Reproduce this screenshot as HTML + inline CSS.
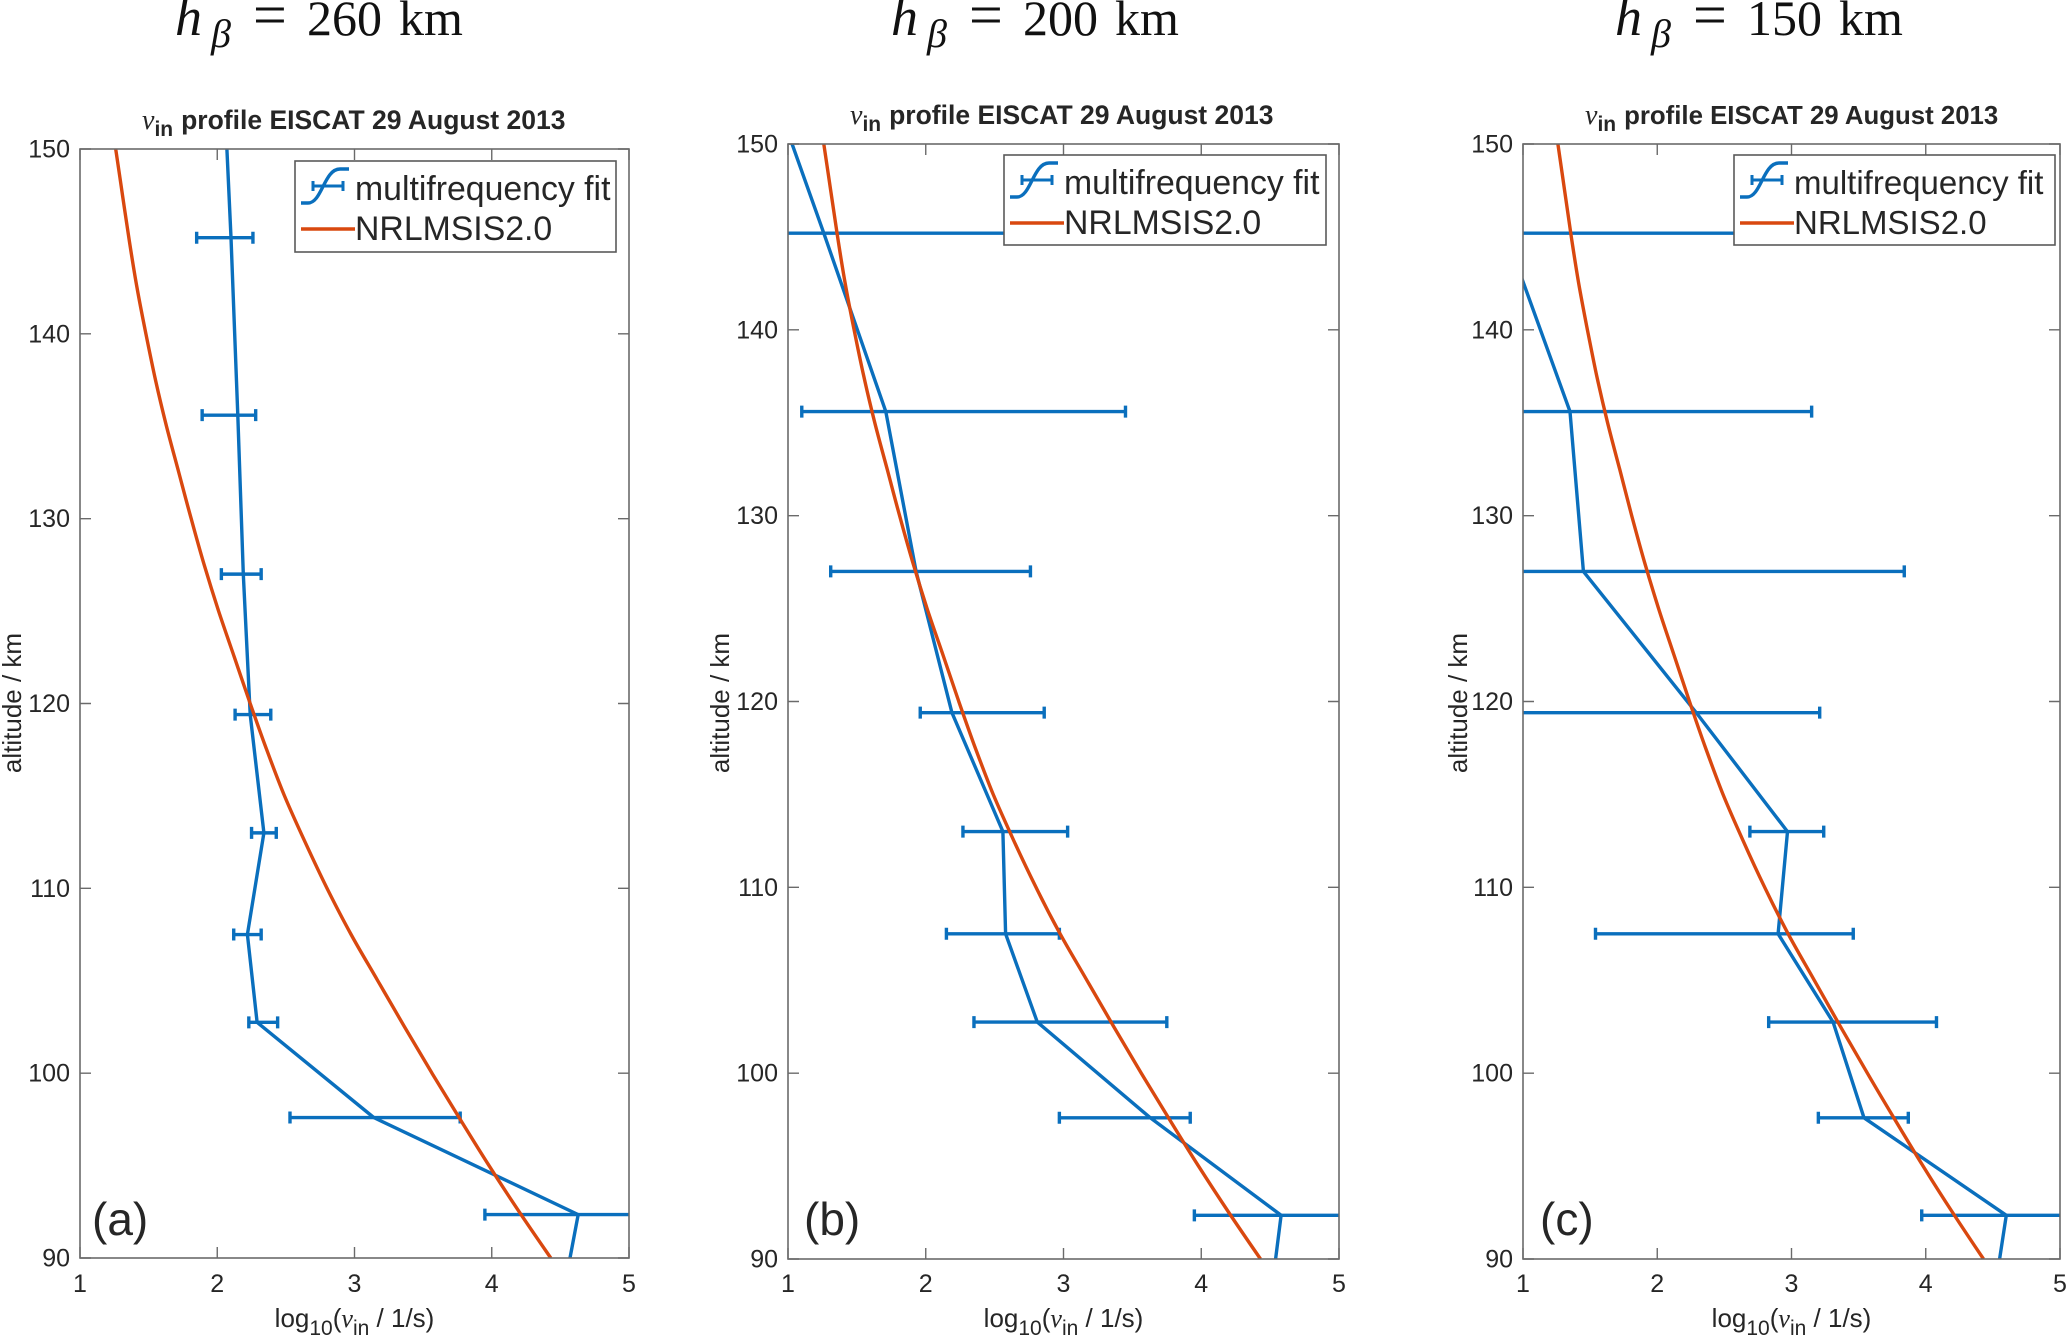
<!DOCTYPE html>
<html>
<head>
<meta charset="utf-8">
<title>Ion-neutral collision frequency profiles</title>
<style>
html,body{margin:0;padding:0;background:#fff;}
svg{display:block;}
text{font-family:"Liberation Sans",sans-serif;fill:#262626;}
.head{font-family:"Liberation Serif",serif;fill:#111;font-size:50px;}
</style>
</head>
<body>
<svg id="fig" xmlns="http://www.w3.org/2000/svg" width="2067" height="1339" viewBox="0 0 2067 1339"></svg>
<script>
const altitudes = [90, 92.35, 97.6, 102.75, 107.5, 113, 119.4, 127, 135.6, 145.2, 150];
const fitA  = [4.57, 4.63, 3.14, 2.29, 2.22, 2.34, 2.24, 2.19, 2.15, 2.10, 2.07];
const lowA  = [null, 3.95, 2.53, 2.23, 2.12, 2.25, 2.13, 2.03, 1.89, 1.85, null];
const highA = [null, 6.00, 3.77, 2.44, 2.32, 2.43, 2.39, 2.32, 2.28, 2.26, null];
const fitB  = [4.54, 4.58, 3.63, 2.81, 2.58, 2.56, 2.19, 1.93, 1.71, 1.26, 1.03];
const lowB  = [null, 3.95, 2.97, 2.35, 2.15, 2.27, 1.96, 1.31, 1.10, 0.20, null];
const highB = [null, 6.00, 3.92, 3.75, 2.97, 3.03, 2.86, 2.76, 3.45, 3.00, null];
const fitC  = [4.55, 4.60, 3.54, 3.31, 2.90, 2.97, 2.29, 1.45, 1.35, 0.87, 0.50];
const lowC  = [null, 3.97, 3.20, 2.83, 1.54, 2.69, 0.50, 0.20, 0.30, 0.10, null];
const highC = [null, 6.00, 3.87, 4.08, 3.46, 3.24, 3.21, 3.84, 3.15, 3.00, null];
const msisAltitudes = [90, 92.5, 95, 97.5, 100, 102.5, 105, 107.5, 110, 112.5, 115, 117.5, 120, 122.5, 125, 127.5, 130, 132.5, 135, 137.5, 140, 142.5, 145, 147.5, 150];
const msisValues = [4.43, 4.20, 3.98, 3.77, 3.565, 3.365, 3.17, 2.975, 2.80, 2.64, 2.49, 2.36, 2.24, 2.125, 2.01, 1.905, 1.81, 1.72, 1.63, 1.55, 1.48, 1.415, 1.36, 1.31, 1.26];
const xTicks = [1, 2, 3, 4, 5];
const yTicks = [90, 100, 110, 120, 130, 140, 150];
const headingValues = ["260", "200", "150"];
const panelLetters = ["(a)", "(b)", "(c)"];

const NS = "http://www.w3.org/2000/svg";
const fig = document.getElementById("fig");
function mk(tag, attrs, parent, txt) {
  const e = document.createElementNS(NS, tag);
  for (const k in attrs) e.setAttribute(k, attrs[k]);
  if (txt !== undefined) e.textContent = txt;
  (parent || fig).appendChild(e);
  return e;
}
const BLUE = "#0A6FBD", ORANGE = "#D9480F", AX = "#6a6a6a";

const layouts = [
  {L:80,  R:629,  T:149, B:1258, legL:295,  legR:616,  legT:161, legB:252, titleX:142,  titleY:129, headX:175,  ylabX:21,  numR:70,   letterX:92,   legFont:33.8, titleFont:26.5},
  {L:788, R:1339, T:144, B:1259, legL:1004, legR:1326, legT:155, legB:245, titleX:850,  titleY:124, headX:891,  ylabX:729, numR:778,  letterX:804,  legFont:33.8, titleFont:26.5},
  {L:1523,R:2060, T:144, B:1259, legL:1734, legR:2055, legT:155, legB:245, titleX:1585, titleY:124, headX:1615, ylabX:1467,numR:1513, letterX:1540, legFont:33,   titleFont:25.8}
];
const fits = [fitA, fitB, fitC];
const lows = [lowA, lowB, lowC];
const highs = [highA, highB, highC];

function smoothPath(px) {
  let d = "M" + px[0][0].toFixed(1) + " " + px[0][1].toFixed(1);
  for (let k = 0; k < px.length - 1; k++) {
    const p0 = px[Math.max(k - 1, 0)], p1 = px[k], p2 = px[k + 1], p3 = px[Math.min(k + 2, px.length - 1)];
    const c1x = p1[0] + (p2[0] - p0[0]) / 6, c1y = p1[1] + (p2[1] - p0[1]) / 6;
    const c2x = p2[0] - (p3[0] - p1[0]) / 6, c2y = p2[1] - (p3[1] - p1[1]) / 6;
    d += "C" + c1x.toFixed(1) + " " + c1y.toFixed(1) + " " + c2x.toFixed(1) + " " + c2y.toFixed(1) + " " + p2[0].toFixed(1) + " " + p2[1].toFixed(1);
  }
  return d;
}

layouts.forEach(function (p, i) {
  const sx = function (v) { return p.L + (v - 1) / 4 * (p.R - p.L); };
  const sy = function (v) { return p.B - (v - 90) / 60 * (p.B - p.T); };
  const g = mk("g", {});
  
  

  // page heading
  const head = mk("text", {x: p.headX, y: 35, "class": "head"}, g);
  
  
  mk("tspan", {"font-style": "italic", "font-size": 54}, head, "h");
  mk("tspan", {"font-style": "italic", x: p.headX + 36, dy: 12, "font-size": 40}, head, "β");
  mk("tspan", {x: p.headX + 78, dy: -12, "font-size": 60}, head, "=");
  mk("tspan", {x: p.headX + 132}, head, headingValues[i]);
  mk("tspan", {x: p.headX + 224}, head, "km");

  // title
  const title = mk("text", {x: p.titleX, y: p.titleY, "font-size": p.titleFont, "font-weight": "bold"}, g);
  
  
  mk("tspan", {"font-family": "Liberation Serif", "font-style": "italic", "font-weight": "normal", "font-size": 28}, title, "ν");
  mk("tspan", {dy: 7, "font-size": 21}, title, "in");
  mk("tspan", {dx: 8, dy: -7}, title, "profile EISCAT 29 August 2013");

  // clip
  const defs = mk("defs", {}, g);
  const cp = mk("clipPath", {id: "clip" + i}, defs);
  mk("rect", {x: p.L, y: p.T, width: p.R - p.L, height: p.B - p.T}, cp);

  // series
  const plot = mk("g", {"clip-path": "url(#clip" + i + ")"}, g);
  
  

  const pts = altitudes.map(function (a, j) { return sx(fits[i][j]).toFixed(1) + "," + sy(a).toFixed(1); }).join(" ");
  const fitLine = mk("polyline", {points: pts, fill: "none", stroke: BLUE, "stroke-width": 3.4, "stroke-linejoin": "round"}, plot);
  
  

  altitudes.forEach(function (a, j) {
    if (lows[i][j] === null) return;
    const y = sy(a), x1 = sx(lows[i][j]), x2 = sx(highs[i][j]);
    const d = "M" + x1 + " " + y + "H" + x2 + "M" + x1 + " " + (y - 6) + "V" + (y + 6) + "M" + x2 + " " + (y - 6) + "V" + (y + 6);
    const eb = mk("path", {d: d, fill: "none", stroke: BLUE, "stroke-width": 3.4}, plot);
    
    
  });

  const mpts = msisAltitudes.map(function (a, j) { return [sx(msisValues[j]), sy(a)]; });
  const msis = mk("path", {d: smoothPath(mpts), fill: "none", stroke: ORANGE, "stroke-width": 3.4}, plot);
  
  

  // axes box
  const box = mk("rect", {x: p.L, y: p.T, width: p.R - p.L, height: p.B - p.T, fill: "none", stroke: AX, "stroke-width": 1.6}, g);
  
  

  // ticks
  xTicks.forEach(function (t) {
    const x = sx(t);
    const tk = mk("path", {d: "M" + x + " " + p.B + "v-11M" + x + " " + p.T + "v11", stroke: AX, "stroke-width": 1.4, fill: "none"}, g);
    
    
    const lb = mk("text", {x: x, y: 1292, "font-size": 25, "text-anchor": "middle"}, g, String(t));
    
    
  });
  yTicks.forEach(function (t) {
    const y = sy(t);
    const tk = mk("path", {d: "M" + p.L + " " + y + "h11M" + p.R + " " + y + "h-11", stroke: AX, "stroke-width": 1.4, fill: "none"}, g);
    
    
    const lb = mk("text", {x: p.numR, y: y + 8.5, "font-size": 25, "text-anchor": "end"}, g, String(t));
    
    
  });

  // axis labels
  const yl = mk("text", {x: 0, y: 0, "font-size": 26, "text-anchor": "middle", transform: "translate(" + p.ylabX + ",703) rotate(-90)"}, g, "altitude / km");
  
  
  const xl = mk("text", {x: (p.L + p.R) / 2, y: 1327, "font-size": 26, "text-anchor": "middle"}, g);
  
  
  mk("tspan", {}, xl, "log");
  mk("tspan", {dy: 8, "font-size": 21}, xl, "10");
  mk("tspan", {dy: -8}, xl, "(");
  mk("tspan", {"font-family": "Liberation Serif", "font-style": "italic"}, xl, "ν");
  mk("tspan", {dy: 8, "font-size": 21}, xl, "in");
  mk("tspan", {dy: -8}, xl, " / 1/s)");

  // panel letter
  const pl = mk("text", {x: p.letterX, y: 1235, "font-size": 46, fill: "#111"}, g, panelLetters[i]);
  
  

  // legend
  const leg = mk("g", {}, g);
  
  
  mk("rect", {x: p.legL, y: p.legT, width: p.legR - p.legL, height: p.legB - p.legT, fill: "#fff", stroke: "#5a5a5a", "stroke-width": 1.6}, leg);
  const lx = p.legL + 6, midY = p.legT + 25, botY = p.legT + 68;
  const s = mk("path", {d: "M" + lx + " " + (midY + 17) + "h7c14 0 16 -34 32 -34h9", fill: "none", stroke: BLUE, "stroke-width": 3.4}, leg);
  
  
  const e = mk("path", {d: "M" + (lx + 12) + " " + midY + "h30M" + (lx + 12) + " " + (midY - 5) + "v10M" + (lx + 42) + " " + (midY - 5) + "v10", fill: "none", stroke: BLUE, "stroke-width": 3}, leg);
  
  
  const t1 = mk("text", {x: p.legL + 60, y: midY + 14, "font-size": p.legFont, fill: "#111"}, leg, "multifrequency fit");
  
  
  const o = mk("path", {d: "M" + lx + " " + botY + "h54", stroke: ORANGE, "stroke-width": 3.4, fill: "none"}, leg);
  
  
  const t2 = mk("text", {x: p.legL + 60, y: botY + 11, "font-size": p.legFont, fill: "#111"}, leg, "NRLMSIS2.0");
  
  
});
</script>
</body>
</html>
